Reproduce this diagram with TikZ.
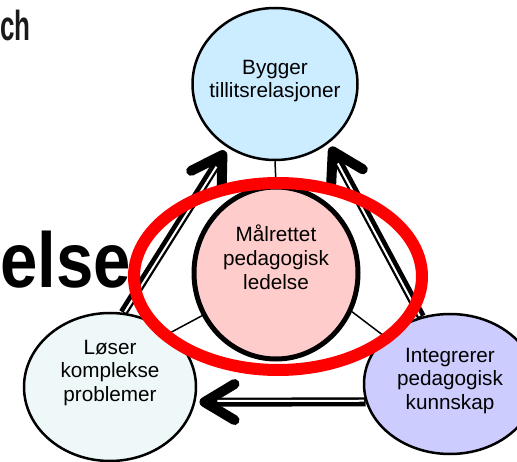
\documentclass[tikz,border=0pt]{standalone}
\usepackage{fontspec}
\setmainfont{Liberation Sans}
\usepackage{graphicx}
\usetikzlibrary{shapes.geometric,arrows.meta}

\definecolor{bygfill}{HTML}{CCECFF}
\definecolor{midfill}{HTML}{FFCCCC}
\definecolor{losfill}{HTML}{EFF8F8}
\definecolor{intfill}{HTML}{CCCCFF}
\definecolor{ttlgray}{HTML}{1A1A1A}

\begin{document}
\begin{tikzpicture}[x=1pt, y=-1pt,
    bubble/.style={ellipse, draw, line width=2.5pt, inner sep=0pt},
    btext/.style={align=center, inner sep=0pt, font=\fontsize{20.7}{23.8}\selectfont},
    ttl/.style={inner sep=0pt, font=\bfseries\fontsize{78}{84}\selectfont},
    spoke/.style={line width=1.5pt},
    link/.style={line width=9pt, shorten >=4pt, -{Straight Barb[length=30pt,width=36pt,line width=10pt,round]}},
    linkcore/.style={white, line width=2pt, shorten <=1.5pt, shorten >=22pt},
    ring/.style={ellipse, draw=red, line width=12pt, inner sep=0pt}]

    \useasboundingbox (0,0) rectangle (517,462);

    % Slide title behind
    \node[ttl, text=ttlgray, anchor=base west, font=\bfseries\fontsize{42}{46}\selectfont] (ttlch) at (0,41) {\scalebox{0.62}[1]{ch}};
    \node[ttl, anchor=base west] (ttlelse) at (0,288) {\scalebox{0.86}[1]{else}};

    % Circles
    \node[bubble, fill=bygfill, minimum width=165, minimum height=152] (byg) at (275,84) {};
    \node[bubble, fill=midfill, line width=5pt, minimum width=164, minimum height=172] (mid) at (276,273) {};
    \node[bubble, fill=losfill, minimum width=172, minimum height=148] (los) at (110,387) {};
    \node[bubble, fill=intfill, minimum width=172, minimum height=140] (int) at (450,384) {};

    % Texts
    \node[btext] (bygtxt) at (275,81) {Bygger\\tillitsrelasjoner};
    \node[btext] (midtxt) at (276,257) {Målrettet\\pedagogisk\\ledelse};
    \node[btext] (lostxt) at (110,373) {Løser\\komplekse\\problemer};
    \node[btext] (inttxt) at (450,381) {Integrerer\\pedagogisk\\kunnskap};

    % Spokes
    \draw[spoke] (byg.south) -- (mid.north);
    \draw[spoke] (mid.210) -- (los.42);
    \draw[spoke] (mid.333) -- (int.144);

    % Arrows (white core set a bit toward the inside)
    \draw[link] (los.80) -- (byg.233);
    \draw[linkcore, transform canvas={shift={(1pt,-0.65pt)}}] (los.80) -- (byg.233);
    \draw[link] (int.113) -- (byg.312);
    \draw[linkcore, transform canvas={shift={(-1.05pt,-0.6pt)}}] (int.113) -- (byg.312);
    \draw[link] (int.192) -- (los.350);
    \draw[linkcore, transform canvas={shift={(0pt,1.2pt)}}] (int.192) -- (los.350);

    % Red ring
    \node[ring, minimum width=288, minimum height=187] (ring) at (278,276.5) {};
\end{tikzpicture}
\end{document}
